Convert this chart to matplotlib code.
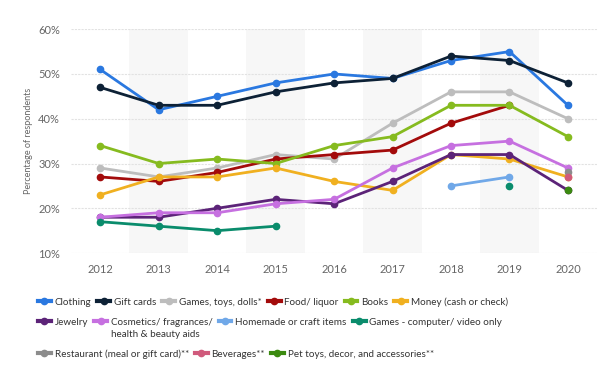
import numpy as np
import matplotlib.pyplot as plt
from matplotlib.lines import Line2D

plt.rcParams['font.family'] = ['Lato', 'DejaVu Sans']

nan = np.nan
years = [2012, 2013, 2014, 2015, 2016, 2017, 2018, 2019, 2020]

clothing = [51, 42, 45, 48, 50, 49, 53, 55, 43]
gift_cards = [47, 43, 43, 46, 48, 49, 54, 53, 48]
games_toys = [29, 27, 29, 32, 31, 39, 46, 46, 40]
food_liquor = [27, 26, 28, 31, 32, 33, 39, 43, nan]
books = [34, 30, 31, 30, 34, 36, 43, 43, 36]
money = [23, 27, 27, 29, 26, 24, 32, 31, 27]
jewelry = [18, 18, 20, 22, 21, 26, 32, 32, 24]
cosmetics = [18, 19, 19, 21, 22, 29, 34, 35, 29]
homemade = [nan, nan, nan, nan, nan, nan, 25, 27, nan]
games_video = [17, 16, 15, 16, nan, nan, nan, 25, nan]
restaurant = [nan, nan, nan, nan, nan, nan, nan, nan, 28]
beverages = [nan, nan, nan, nan, nan, nan, nan, nan, 27]
pet_toys = [nan, nan, nan, nan, nan, nan, nan, nan, 24]

series = [
    ('Clothing', clothing, '#2a78e0'),
    ('Gift cards', gift_cards, '#0d2136'),
    ('Games, toys, dolls*', games_toys, '#bdbdbd'),
    ('Food/ liquor', food_liquor, '#a30b0b'),
    ('Books', books, '#86bb1f'),
    ('Money (cash or check)', money, '#f0b020'),
    ('Jewelry', jewelry, '#5c2378'),
    ('Cosmetics/ fragrances/', cosmetics, '#c670e0'),
    ('Homemade or craft items', homemade, '#70a8e8'),
    ('Games - computer/ video only', games_video, '#0a8c6c'),
    ('Restaurant (meal or gift card)**', restaurant, '#8c8c8c'),
    ('Beverages**', beverages, '#d05a7c'),
    ('Pet toys, decor, and accessories**', pet_toys, '#3b8a10'),
]

fig = plt.figure(figsize=(6.02, 3.84), dpi=100)
ax = fig.add_axes([0.118, 0.341, 0.874, 0.583])

for y in [2013, 2015, 2017, 2019]:
    ax.axvspan(y - 0.5, y + 0.5, color='#f7f7f7', zorder=0, lw=0)

handles = []
for name, vals, col in series:
    ax.plot(years, vals, color=col, lw=2, marker='o', ms=4.5, zorder=3)
    handles.append(Line2D([], [], color=col, lw=3, marker='o', ms=4.5))

ax.set_xlim(2011.5, 2020.5)
ax.set_ylim(10, 60)
ax.set_xticks(years)
ax.set_yticks([10, 20, 30, 40, 50, 60])
ax.set_yticklabels(['10%', '20%', '30%', '40%', '50%', '60%'])
ax.grid(axis='y', color='#e2e2e2', lw=0.8, ls=(0, (2, 1)), zorder=1)
ax.tick_params(length=0, colors='#666666', labelsize=8, pad=8)
for s in ax.spines.values():
    s.set_visible(False)
ax.set_ylabel('Percentage of respondents', fontsize=6.5, color='#666666')
ax.yaxis.set_label_coords(-0.072, 0.5)

names = [s[0] for s in series]
rows = [(0, 6, 0.201), (6, 10, 0.149), (10, 13, 0.066)]
legs = []
for a, b, ypos in rows:
    leg = fig.legend(handles[a:b], names[a:b], ncol=b - a, loc='lower left',
                     bbox_to_anchor=(0.063, ypos), frameon=False, fontsize=7.1,
                     handlelength=1.3, handletextpad=0.4, columnspacing=0.6,
                     borderaxespad=0, borderpad=0)
    for t in leg.get_texts():
        t.set_color('#333333')
    legs.append(leg)

# second line of the cosmetics label sits under the first one
fig.canvas.draw()
tb = legs[1].get_texts()[1].get_window_extent()
x0, y0 = fig.transFigure.inverted().transform((tb.x0, tb.y0))
fig.text(x0, y0 - 0.008, 'health & beauty aids', fontsize=7.1, color='#333333',
         ha='left', va='top')

fig.savefig('out.png', dpi=100)
